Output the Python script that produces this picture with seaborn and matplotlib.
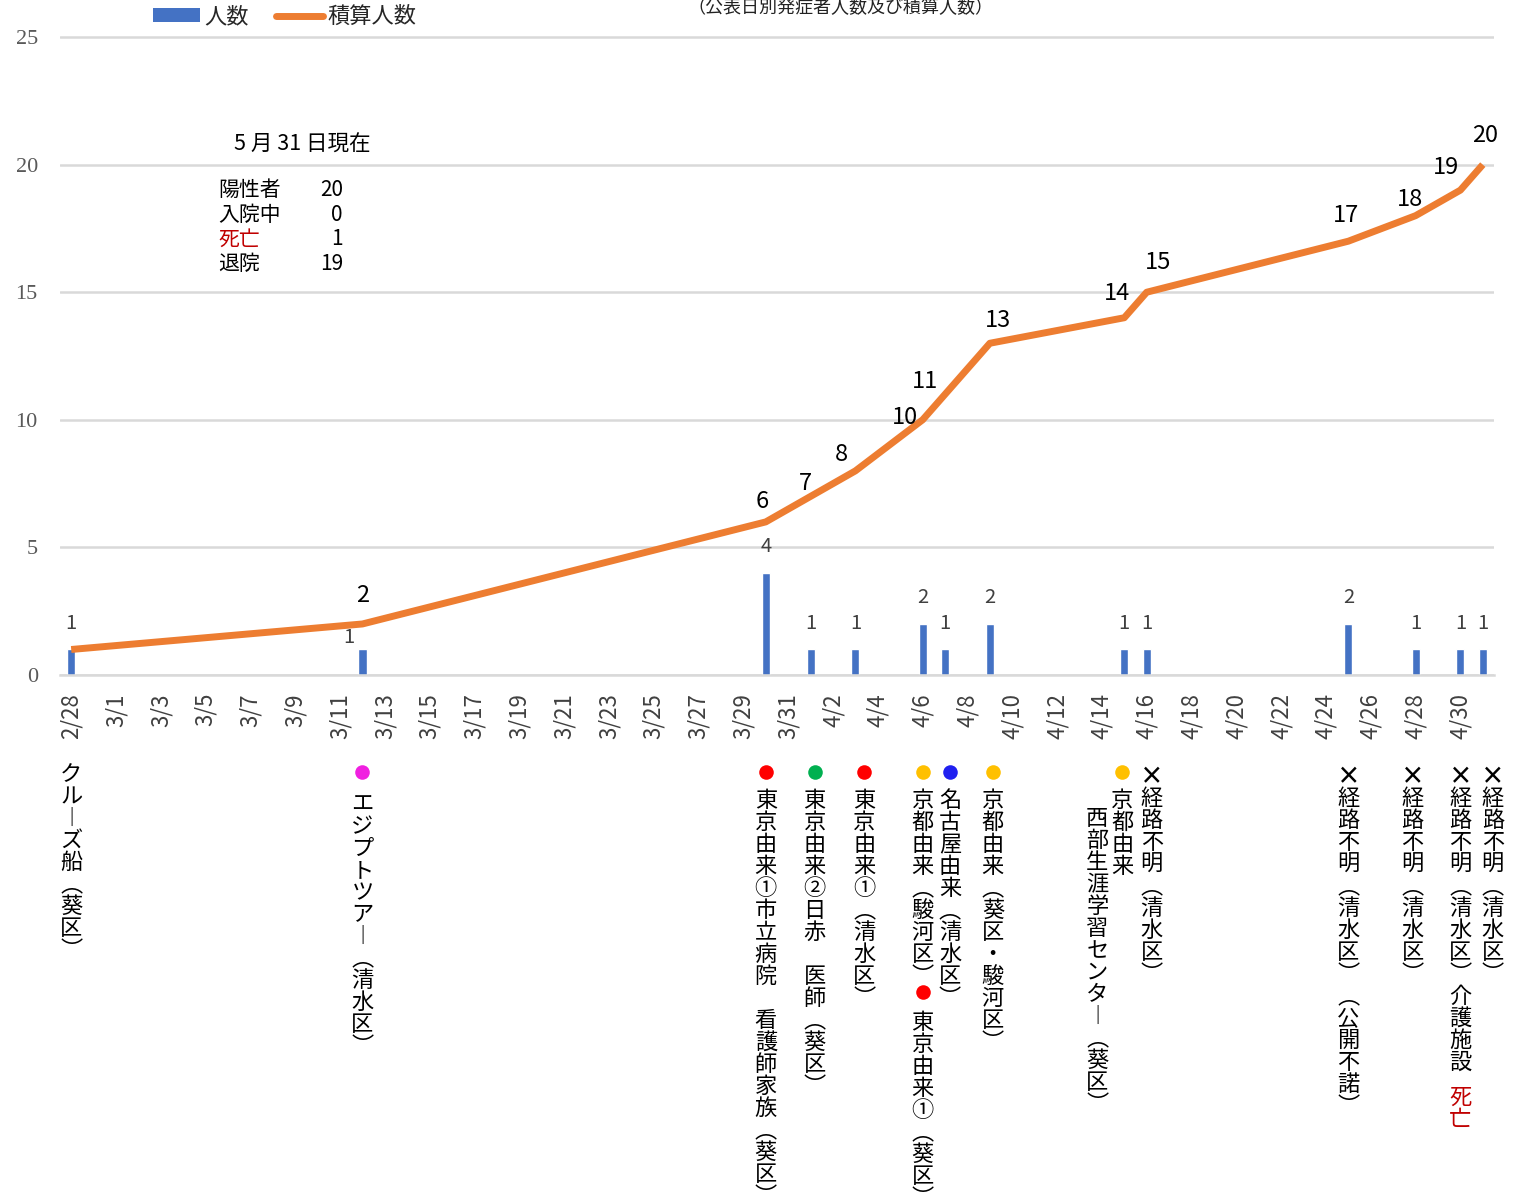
import numpy as np
import pandas as pd
import matplotlib
matplotlib.use("Agg")
import matplotlib.pyplot as plt
import matplotlib.transforms as mtransforms
from matplotlib.patches import Patch
from matplotlib.lines import Line2D
import seaborn as sns

# ---------------- data ----------------
all_dates = (["2/28", "2/29"] + [f"3/{d}" for d in range(1, 32)]
             + [f"4/{d}" for d in range(1, 31)] + ["5/1"])
tick_labels = all_dates[::2]

case_dates = ["2/28", "3/12", "3/30", "4/1", "4/3", "4/6", "4/7", "4/9",
              "4/15", "4/16", "4/25", "4/28", "4/30", "5/1"]
case_counts = [1, 1, 4, 1, 1, 2, 1, 2, 1, 1, 2, 1, 1, 1]
cumulative = [1, 2, 6, 7, 8, 10, 11, 13, 14, 15, 17, 18, 19, 20]

y_ticks = [0, 5, 10, 15, 20, 25]
legend_labels = ["人数", "積算人数"]
title_text = "（公表日別発症者人数及び積算人数）"
status_title = "5 月 31 日現在"
status_names = ["陽性者", "入院中", "死亡", "退院"]
status_values = [20, 0, 1, 19]

note_dates = ["2/28", "3/12", "3/30", "4/1", "4/3", "4/6", "4/6", "4/7",
              "4/9", "4/15", "4/15", "4/16", "4/25", "4/28", "4/30", "5/1"]
note_texts = [
    "クル︱ズ船︵葵区︶",
    "エジプトツア︱︵清水区︶",
    "東京由来①市立病院　看護師家族︵葵区︶",
    "東京由来②日赤　医師︵葵区︶",
    "東京由来①︵清水区︶",
    "京都由来︵駿河区︶",
    "東京由来①︵葵区︶",
    "名古屋由来︵清水区︶",
    "京都由来︵葵区・駿河区︶",
    "京都由来",
    "西部生涯学習センタ︱︵葵区︶",
    "×経路不明︵清水区︶",
    "×経路不明︵清水区︶︵公開不諾︶",
    "×経路不明︵清水区︶",
    "×経路不明︵清水区︶介護施設",
    "×経路不明︵清水区︶",
]
note_red_suffix = "死亡"

# ---------------- style / layout ----------------
W, H, DPI = 1517, 1198, 100
BLUE, ORANGE, GRID = "#4472C4", "#ED7D31", "#D9D9D9"
dot_colors = [None, "#F020E0", "#FF0000", "#00B050", "#FF0000", "#FFC000",
              "#FF0000", "#2020F0", "#FFC000", "#FFC000", None, None, None,
              None, None, None]
note_dx = [0, 0, 0, 4, 9, 0, 0, 5, 3, -2, -27, 5, 0, -3, 0, 10]
note_top = [763, 793, 789, 789, 789, 789, 1011, 789, 789, 789, 807,
            765, 765, 765, 765, 765]
dot_y = [772, 772, 772, 772, 772, 772, 992, 772, 772, 772, 772,
         772, 772, 772, 772, 772]
line_lab_off = [None, (0, 28), (-4, 20), (-5, 13), (-14, 16), (-18, 2),
                (-20, 13), (8, 23), (-7, 24), (11, 30), (-2, 26), (-6, 16),
                (-14, 23), (2, 29)]
bar_lab_off = [(0, 26)] * len(case_dates)
bar_lab_off[1] = (-14, 12)

sns.set_theme(style="white")
plt.rcParams["font.family"] = ["Noto Sans CJK JP", "DejaVu Sans"]

fig = plt.figure(figsize=(W / DPI, H / DPI), dpi=DPI)
ax = fig.add_axes([60 / W, 1 - 675 / H, 1434 / W, 640 / H])


def fy(px):
    return 1 - px / H


# bars
sns.barplot(x=case_dates, y=case_counts, order=all_dates, color=BLUE,
            saturation=1, width=0.36, errorbar=None, ax=ax, zorder=2)

# cumulative line
case_pos = [all_dates.index(d) for d in case_dates]
sns.lineplot(x=case_pos, y=cumulative, color=ORANGE, linewidth=5,
             sort=False, errorbar=None, ax=ax, zorder=3)
ln = ax.get_lines()[-1]
ln.set_solid_joinstyle("round")
ln.set_solid_capstyle("butt")

# labels on line
for p, v, off in zip(case_pos, cumulative, line_lab_off):
    if off is None:
        continue
    ax.annotate(str(v), (p, v), xytext=off, textcoords="offset pixels",
                ha="center", va="center", fontsize=17, color="#000000",
                zorder=5)
# labels on bars
for p, v, off in zip(case_pos, case_counts, bar_lab_off):
    ax.annotate(str(v), (p, v), xytext=off, textcoords="offset pixels",
                ha="center", va="center", fontsize=14.5, color="#404040",
                zorder=5)

# axes formatting
ax.set_xlim(-0.5, len(all_dates) - 0.5)
ax.set_ylim(0, 25.08)
ax.set_xticks(range(0, len(all_dates), 2))
ax.set_xticklabels(tick_labels, rotation=90, fontsize=16, color="#404040")
ax.set_xticks(np.arange(-0.5, len(all_dates), 2), minor=True)
ax.tick_params(axis="x", which="major", length=0, pad=13)
ax.tick_params(axis="x", which="minor", length=6, width=1.5, color=GRID,
               direction="out")
ax.set_yticks(y_ticks)
ax.set_yticklabels([str(t) for t in y_ticks], fontsize=16, color="#595959",
                   family=["Liberation Serif", "DejaVu Serif"])
ax.tick_params(axis="y", length=0, pad=16)
ax.yaxis.grid(True, color=GRID, linewidth=1.8)
ax.xaxis.grid(False)
ax.set_axisbelow(True)
for s in ["top", "right", "left"]:
    ax.spines[s].set_visible(False)
ax.spines["bottom"].set_color(GRID)
ax.spines["bottom"].set_linewidth(1.8)
ax.set_xlabel("")
ax.set_ylabel("")

# legend
handles = [Patch(facecolor=BLUE, edgecolor="none"),
           Line2D([0], [0], color=ORANGE, linewidth=5)]
fig.legend(handles, legend_labels, loc="upper left", ncol=2,
           bbox_to_anchor=(153 / W, fy(5)), frameon=False, fontsize=16,
           handlelength=2.1, handleheight=0.58, handletextpad=0.2,
           columnspacing=1.25, borderpad=0, borderaxespad=0)

# title (partly cut at top as in the original)
fig.text(840 / W, fy(8), title_text, ha="center", va="center",
         fontsize=13, color="#222222")

# status box
fig.text(302 / W, fy(145), status_title, ha="center", va="center",
         fontsize=15.5, color="#000000")
for i, (n, v) in enumerate(zip(status_names, status_values)):
    yy = fy(190 + i * 24.7)
    c = "#C00000" if n == "死亡" else "#000000"
    fig.text(218 / W, yy, n, ha="left", va="center", fontsize=15, color=c)
    fig.text(343 / W, yy, str(v), ha="right", va="center", fontsize=15,
             color="#000000")

# vertical notes below the axis
blend = mtransforms.blended_transform_factory(ax.transData, fig.transFigure)
VFS, VLS = 16, 0.945
for d, txt, col, dx, top, dy in zip(note_dates, note_texts, dot_colors,
                                    note_dx, note_top, dot_y):
    x = all_dates.index(d)
    tr = mtransforms.offset_copy(blend, fig=fig, x=dx, y=0, units="dots")
    if col is not None:
        ax.scatter([x], [fy(dy)], s=110, color=col, transform=tr,
                   clip_on=False, zorder=6, linewidths=0)
    body = txt
    if txt.startswith("×"):
        ax.text(x, fy(top), "×", transform=tr, ha="center", va="top",
                fontsize=VFS + 1, fontweight="bold", color="#000000",
                clip_on=False)
        body = txt[1:]
        top = top + 22
    ax.text(x, fy(top), "\n".join(body), transform=tr, ha="center",
            va="top", multialignment="center", fontsize=VFS,
            linespacing=VLS, color="#000000", clip_on=False)
    if txt.endswith("介護施設"):
        ax.text(x, fy(1086), "\n".join(note_red_suffix), transform=tr,
                ha="center", va="top", multialignment="center",
                fontsize=VFS, linespacing=VLS, color="#C00000",
                clip_on=False)

fig.savefig("out.png", dpi=DPI)
